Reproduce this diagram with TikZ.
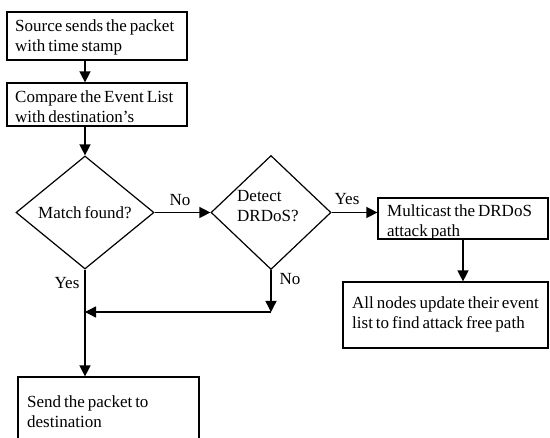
\documentclass[tikz,border=0pt]{standalone}
\usepackage{fontspec}
\setmainfont[WordSpace=0.7]{Liberation Serif}
\usetikzlibrary{shapes.geometric,arrows.meta}
\begin{document}
\begin{tikzpicture}[x=1pt,y=-1pt,
  font=\fontsize{17}{20}\selectfont,
  box/.style={draw, line width=1.2pt, rectangle, inner sep=0pt},
  dia/.style={draw, line width=1.2pt, diamond, inner sep=0pt},
  txt/.style={align=left, inner sep=0pt, anchor=west},
  lab/.style={inner sep=0pt},
  arr/.style={line width=1.4pt, -{Triangle[length=11pt,width=11pt]}},
  ln/.style={line width=1.4pt}]
\useasboundingbox (0,0) rectangle (550,438);
% boxes
\node[box, minimum width=180pt, minimum height=48pt] (b1) at (97,36) {};
\node[txt] (t1) at (15,37) {Source sends the packet\\with time stamp};
\node[box, minimum width=180pt, minimum height=43pt] (b2) at (97,104.5) {};
\node[txt] (t2) at (15,107) {Compare the Event List\\with destination’s};
\node[dia, minimum width=138pt, minimum height=113pt] (d1) at (85,212.5) {Match found?};
\node[dia, minimum width=120pt, minimum height=114pt] (d2) at (271,212.5) {};
\node[txt] (td2) at (237,206) {Detect\\DRDoS?};
\node[box, minimum width=170pt, minimum height=41pt] (b3) at (463,218.5) {};
\node[txt] (t3) at (387,222) {Multicast the DRDoS\\attack path};
\node[box, minimum width=205pt, minimum height=66pt] (b4) at (445.5,315) {};
\node[txt] (t4) at (352,314) {All nodes update their event\\list to find attack free path};
\node[box, minimum width=181pt, minimum height=73pt] (b5) at (108.5,413.5) {};
\node[txt] (t5) at (27,411.5) {Send the packet to\\destination};
% junctions
\coordinate (j2) at (271,312);
\coordinate (j1) at (85,312);
% connectors
\draw[arr] (b1.south -| d1.north) -- (b2.north -| d1.north);
\draw[arr] (b2.south -| d1.north) -- (d1.north);
\draw[arr] (d1.east) -- (d2.west);
\draw[arr] (d2.east) -- (d2.east -| b3.west);
\draw[arr] (b3.south) -- (b3.south |- b4.north);
\draw[arr] (d2.south) -- (j2);
\draw[arr] (j2) -- (j1);
\draw[arr] (d1.south) -- (d1.south |- b5.north);
\node[lab] (no1) at (180,200) {No};
\node[lab] (yes2) at (347,199) {Yes};
\node[lab] (no2) at (290,279) {No};
\node[lab] (yes1) at (67,283) {Yes};
\end{tikzpicture}
\end{document}
